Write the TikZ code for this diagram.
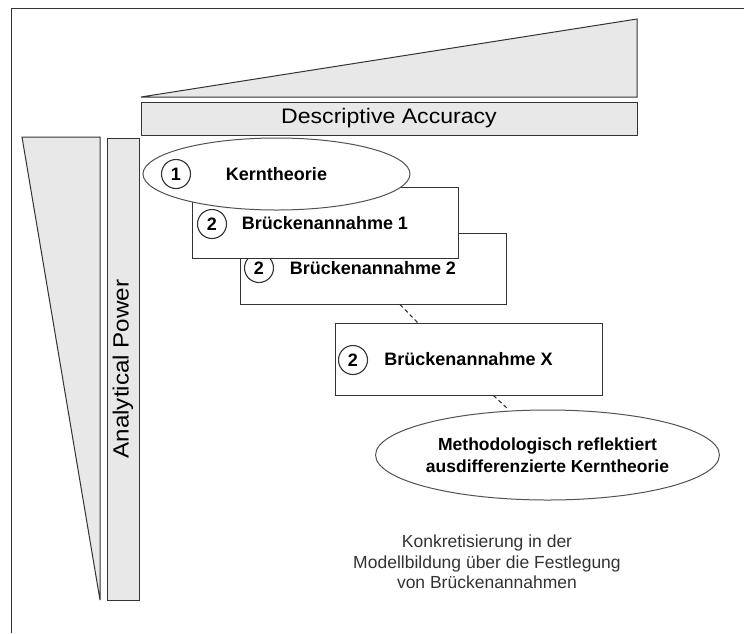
\documentclass[tikz,border=0pt]{standalone}
\usepackage{fontspec}
\setmainfont{Liberation Sans}
\newfontfamily\widefont{Liberation Sans}[FakeStretch=1.1]
\usetikzlibrary{calc,shapes.geometric}
\definecolor{panelgray}{HTML}{E8E8E8}
\definecolor{edgegray}{HTML}{333333}

\begin{document}
\begin{tikzpicture}[x=1pt,y=-1pt,
		box/.style={draw=edgegray,fill=white,line width=1pt,minimum width=266pt,minimum height=71pt,inner sep=0pt,font=\fontsize{18}{22}\selectfont\bfseries},
		oval/.style={ellipse,draw=edgegray!85,fill=white,line width=1pt,inner sep=0pt,font=\fontsize{18}{22}\selectfont\bfseries},
		num/.style={circle,draw=edgegray,fill=white,line width=1.1pt,minimum size=29pt,inner sep=0pt,font=\fontsize{18}{18}\selectfont\bfseries},
		bar/.style={draw=edgegray,fill=panelgray,line width=1pt,inner sep=0pt,font=\fontsize{21}{25}\selectfont\widefont}]
		\useasboundingbox (0,0) rectangle (744,633);
		\draw[edgegray,line width=1pt] (744,8)--(11,8)--(11,633);
		\draw[edgegray,fill=panelgray,line width=1pt] (141,97)--(637,19)--(637,97)--cycle;
		\draw[edgegray,fill=panelgray,line width=1pt] (22,137)--(100,137)--(100,600)--cycle;
		\node[bar,minimum width=496pt,minimum height=33pt] (accuracy) at (389,118.5) {Descriptive Accuracy};
		\node[bar,rotate=90,minimum width=462pt,minimum height=32pt,font=\fontsize{22}{26}\selectfont\widefont] (power) at (123,369) {Analytical Power};
		\node[box] (bridge2) at (373,268.5) {Br\"uckenannahme 2};
		\node[num] (mark2b) at (259,268) {2};
		\node[box] (bridge1) at (325,223) {Br\"uckenannahme 1};
		\node[num] (mark2a) at (212,224) {2};
		\node[oval,minimum width=267pt,minimum height=72pt] (core) at (276.5,174) {Kerntheorie};
		\node[num] (mark1) at (176,174) {1};
		\node[box,minimum width=267pt,minimum height=72pt] (bridgeX) at (468.5,359) {Br\"uckenannahme X};
		\node[num] (mark2x) at (353,360) {2};
		\node[oval,minimum width=287pt,minimum height=90pt,align=center,font=\fontsize{17.5}{22}\selectfont\bfseries] (result) at (547.5,455) {Methodologisch reflektiert\\ausdifferenzierte Kerntheorie};
		\draw[edgegray,line width=1.1pt,dash pattern=on 4pt off 3pt] ([xshift=27pt]bridge2.south)--([xshift=-51pt]bridgeX.north);
		\draw[edgegray,line width=1.1pt,dash pattern=on 4pt off 3pt] ([xshift=25pt]bridgeX.south)--([xshift=-39pt]result.north);
		\node[align=center,font=\fontsize{17.5}{20.5}\selectfont,text=edgegray] (note) at (487,562) {Konkretisierung in der\\Modellbildung \"uber die Festlegung\\von Br\"uckenannahmen};
	\end{tikzpicture}
\end{document}
